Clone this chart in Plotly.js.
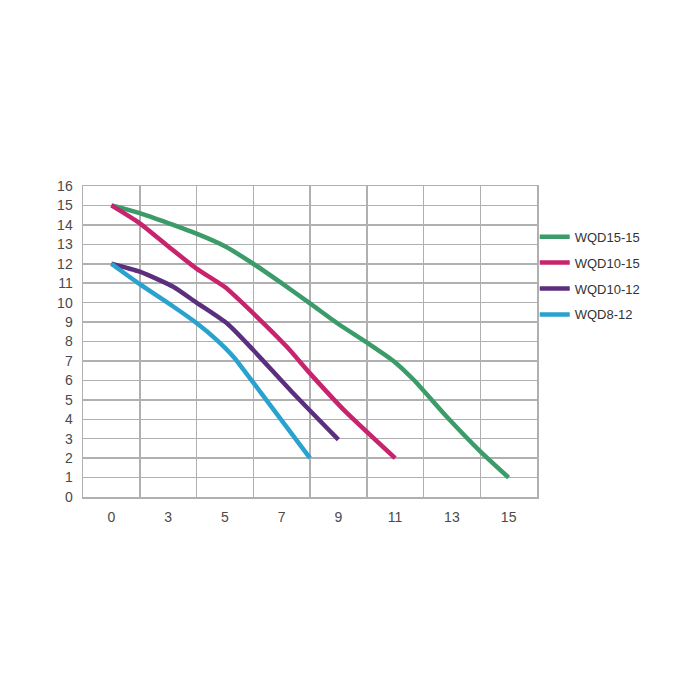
<!DOCTYPE html>
<html>
<head>
<meta charset="utf-8">
<script src="https://cdn.plot.ly/plotly-3.0.1.min.js"></script>
<style>
  html, body { margin: 0; padding: 0; background: #ffffff; }
  #chart { width: 700px; height: 700px; }
</style>
</head>
<body>
<div id="chart"></div>
<script>
// Flow axis labels (evenly spaced columns, not a linear scale)
var flowLabels = ["0", "3", "5", "7", "9", "11", "13", "15"];
var flowPos = [0, 1, 2, 3, 4, 5, 6, 7];

// Head values, x given as position along the label columns
var wqd1515X = [0, 0.5, 1.5, 2.0, 2.5, 3.0, 3.5, 4.0, 4.5, 4.97, 5.33, 5.91, 6.5, 7];
var wqd1515Y = [15, 14.6, 13.55, 12.9, 12.0, 11.0, 9.96, 8.9, 7.95, 7.0, 6.02, 4.13, 2.35, 1];

var wqd1015X = [0, 0.5, 1.0, 1.5, 2.0, 2.5, 3.1, 3.5, 4.1, 5];
var wqd1015Y = [15, 14.08, 12.9, 11.75, 10.8, 9.45, 7.7, 6.36, 4.47, 2];

var wqd1012X = [0, 0.5, 1.09, 1.5, 2.05, 2.5, 3.2, 4];
var wqd1012Y = [12, 11.59, 10.82, 10.0, 8.9, 7.56, 5.35, 2.95];

var wqd812X = [0, 0.5, 1.09, 1.5, 1.85, 2.15, 2.62, 3.05, 3.5];
var wqd812Y = [12, 10.95, 9.8, 8.95, 8.1, 7.22, 5.42, 3.75, 2];

var names = ["WQD15-15", "WQD10-15", "WQD10-12", "WQD8-12"];
var colors = ["#3b9b69", "#c8246e", "#5b2e7e", "#2aa2cf"];

var gridColor = "#b0b0b0";
var fontFamily = "Liberation Sans, Arial, sans-serif";
var tickFont = { family: fontFamily, size: 14, color: "#4a4a4a" };

function makeTrace(x, y, i) {
    return {
        x: x,
        y: y,
        name: names[i],
        legendgroup: names[i],
        type: "scatter",
        mode: "lines",
        line: { color: colors[i], width: 4.5, shape: "spline", smoothing: 0.6 },
        hoverinfo: "skip"
    };
}

var traces = [
    makeTrace(wqd1515X, wqd1515Y, 0),
    makeTrace(wqd1015X, wqd1015Y, 1),
    makeTrace(wqd1012X, wqd1012Y, 2),
    makeTrace(wqd812X, wqd812Y, 3)
];

// grid lines sit between the label columns
var gridVals = [];
for (var i = 0; i <= flowPos.length; i++) {
    gridVals.push(i - 0.5);
}

var layout = {
    width: 700,
    height: 700,
    margin: { l: 83, r: 163, t: 186, b: 203 },
    paper_bgcolor: "#ffffff",
    plot_bgcolor: "#ffffff",
    showlegend: true,
    legend: {
        x: 0.995, xanchor: "left",
        y: 0.885, yanchor: "top",
        font: { family: fontFamily, size: 13, color: "#333333" },
        tracegroupgap: 6,
        traceorder: "grouped",
        bgcolor: "rgba(0,0,0,0)"
    },
    xaxis: {
        range: [-0.5, 7.5],
        tickmode: "array",
        tickvals: gridVals,
        showticklabels: false,
        showgrid: true,
        gridcolor: gridColor,
        gridwidth: 1.5,
        showline: true,
        mirror: true,
        linecolor: gridColor,
        linewidth: 1.5,
        zeroline: false,
        ticks: "",
        fixedrange: true
    },
    xaxis2: {
        overlaying: "x",
        side: "bottom",
        range: [-0.5, 7.5],
        tickmode: "array",
        tickvals: flowPos,
        ticktext: flowLabels,
        tickfont: tickFont,
        ticklabelstandoff: 10,
        showgrid: false,
        zeroline: false,
        showline: false,
        ticks: "",
        fixedrange: true
    },
    yaxis: {
        range: [0, 16],
        tickmode: "linear",
        tick0: 0,
        dtick: 1,
        tickfont: tickFont,
        ticklabelstandoff: 6,
        showgrid: true,
        gridcolor: gridColor,
        gridwidth: 1.5,
        showline: true,
        mirror: true,
        linecolor: gridColor,
        linewidth: 1.5,
        zeroline: false,
        ticks: "",
        fixedrange: true
    }
};

// invisible trace so the label axis is drawn
traces.push({ x: [0], y: [0], xaxis: "x2", type: "scatter", mode: "markers",
    marker: { opacity: 0 }, showlegend: false, hoverinfo: "skip" });

Plotly.newPlot("chart", traces, layout, { staticPlot: true, displayModeBar: false });
</script>
</body>
</html>
